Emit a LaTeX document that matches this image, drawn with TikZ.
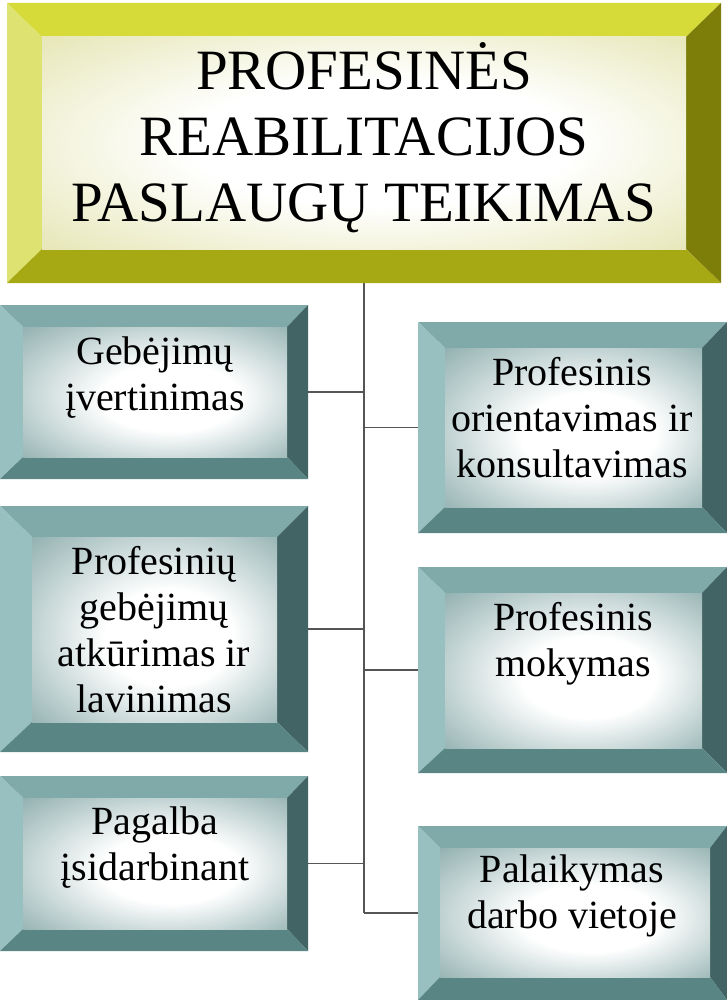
\documentclass[tikz,border=0pt]{standalone}
\usepackage{fontspec}
\setmainfont{Liberation Serif}
\definecolor{goldT}{RGB}{214,219,58}
\definecolor{goldL}{RGB}{222,226,112}
\definecolor{goldR}{RGB}{125,125,10}
\definecolor{goldB}{RGB}{166,168,20}
\definecolor{goldIn}{RGB}{228,228,176}
\definecolor{tealT}{RGB}{128,170,170}
\definecolor{tealL}{RGB}{152,192,192}
\definecolor{tealR}{RGB}{66,100,100}
\definecolor{tealB}{RGB}{90,133,133}
\definecolor{tealIn}{RGB}{132,166,166}
\definecolor{connc}{RGB}{85,85,85}
\pgfdeclareradialshading{goldglow}{\pgfpoint{2bp}{0bp}}{color(0bp)=(white); color(15bp)=(white); color(38bp)=(goldIn); color(50bp)=(goldIn)}
\pgfdeclareradialshading{tealglow}{\pgfpoint{4bp}{-3bp}}{color(0bp)=(white); color(13bp)=(white); color(40bp)=(tealIn); color(50bp)=(tealIn)}
\newcommand\bevelbox[2]{%
  \fill[#2T] (#1.north west) -- (#1.north east) -- (#1i.north east) -- (#1i.north west) -- cycle;
  \fill[#2L] (#1.north west) -- (#1i.north west) -- (#1i.south west) -- (#1.south west) -- cycle;
  \fill[#2R] (#1.north east) -- (#1.south east) -- (#1i.south east) -- (#1i.north east) -- cycle;
  \fill[#2B] (#1.south west) -- (#1.south east) -- (#1i.south east) -- (#1i.south west) -- cycle;
  \fill[shading=#2glow] (#1i.north west) rectangle (#1i.south east);
}
\newcommand\boxtext[2]{\parbox[t]{#1}{\centering #2}}
\begin{document}
\begin{tikzpicture}[x=1pt,y=-1pt,
  frame/.style={rectangle,inner sep=0pt,outer sep=0pt,draw=none},
  ttext/.style={inner sep=0pt,outer sep=0pt,anchor=base,font=\fontsize{57}{66}\selectfont},
  btext/.style={inner sep=0pt,outer sep=0pt,anchor=base,font=\fontsize{40}{46}\selectfont},
  conn/.style={draw=connc,line width=1.2pt}]
\useasboundingbox[fill=white] (0,0) rectangle (727,1000);
% frames
\node[frame,minimum width=714pt,minimum height=280pt] (main) at (364,143) {};
\node[frame,minimum width=644pt,minimum height=212pt] (maini) at (364,143) {};
\node[frame,minimum width=308pt,minimum height=174pt] (l1) at (154,392) {};
\node[frame,minimum width=264pt,minimum height=130pt] (l1i) at (155,392) {};
\node[frame,minimum width=308pt,minimum height=246pt] (l2) at (154,629) {};
\node[frame,minimum width=245pt,minimum height=185pt] (l2i) at (154.5,629.5) {};
\node[frame,minimum width=308pt,minimum height=175pt] (l3) at (154,863.5) {};
\node[frame,minimum width=264pt,minimum height=131pt] (l3i) at (155,863.5) {};
\node[frame,minimum width=309pt,minimum height=211pt] (r1) at (572.5,427.5) {};
\node[frame,minimum width=257pt,minimum height=159pt] (r1i) at (573.5,427.5) {};
\node[frame,minimum width=309pt,minimum height=206pt] (r2) at (572.5,670) {};
\node[frame,minimum width=257pt,minimum height=155pt] (r2i) at (573.5,670.5) {};
\node[frame,minimum width=309pt,minimum height=174pt] (r3) at (572.5,913) {};
\node[frame,minimum width=270pt,minimum height=129pt] (r3i) at (575,912.5) {};
% connectors
\draw[conn] (main.south) -- (main.south |- r3.west);
\draw[conn] (l1.east) -- (l1.east -| main.south);
\draw[conn] (l2.east) -- (l2.east -| main.south);
\draw[conn] (l3.east) -- (l3.east -| main.south);
\draw[conn] (r1.west) -- (r1.west -| main.south);
\draw[conn] (r2.west) -- (r2.west -| main.south);
\draw[conn] (r3.west) -- (r3.west -| main.south);
% bevels
\bevelbox{main}{gold}
\bevelbox{l1}{teal}
\bevelbox{l2}{teal}
\bevelbox{l3}{teal}
\bevelbox{r1}{teal}
\bevelbox{r2}{teal}
\bevelbox{r3}{teal}
% texts
\node[ttext] (maint) at (364,90) {\boxtext{640pt}{PROFESINĖS\\REABILITACIJOS\\PASLAUGŲ TEIKIMAS}};
\node[btext] (l1t) at (155,364) {\boxtext{260pt}{Gebėjimų\\įvertinimas}};
\node[btext] (l2t) at (154,574) {\boxtext{260pt}{Profesinių\\gebėjimų\\atkūrimas ir\\lavinimas}};
\node[btext] (l3t) at (155,834) {\boxtext{260pt}{Pagalba\\įsidarbinant}};
\node[btext] (r1t) at (572,385) {\boxtext{260pt}{Profesinis\\orientavimas ir\\konsultavimas}};
\node[btext] (r2t) at (573,630) {\boxtext{260pt}{Profesinis\\mokymas}};
\node[btext] (r3t) at (572,882) {\boxtext{260pt}{Palaikymas\\darbo vietoje}};
\end{tikzpicture}
\end{document}
